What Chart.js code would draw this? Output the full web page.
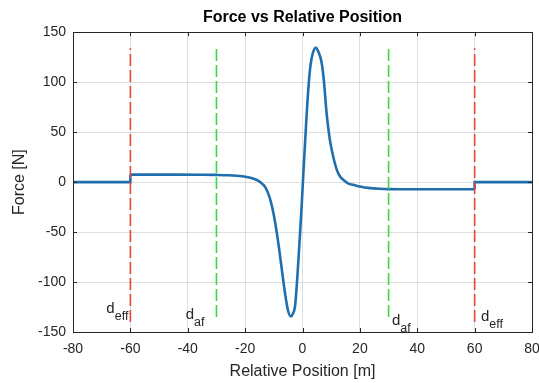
<!DOCTYPE html>
<html lang="en">
<head>
  <meta charset="UTF-8" />
  <title>Force vs Relative Position</title>
  <style>
    body {
      margin: 0;
      padding: 0;
      background: #fff;
    }
    canvas {
      display: block;
    }
  </style>
</head>
<body>
  <canvas id="grafico" width="539" height="383"></canvas>

  <script src="https://cdn.jsdelivr.net/npm/chart.js"></script>
  <script>
    // central interaction region, relative position [m] vs force [N]
    const posicion = [-60, -45, -35, -30, -26, -23, -21, -19, -17, -15.5, -14, -13, -12, -11, -10, -9, -8, -7, -6, -5, -4, -3.4,
      -2.6, -1.8, -1, -0.3, 0.4, 1.2, 2, 2.8, 3.7, 4.7, 5.6, 6.7, 7.5, 8.4, 9.5, 10.7, 12, 13.1, 14.2, 16, 17.7, 20, 23.5, 27, 30, 40, 60];
    const fuerza = [7.5, 7.5, 7.4, 7.2, 6.9, 6.4, 5.8, 4.8, 3.3, 1.4, -1.8, -5, -11, -20, -33, -50, -70, -92, -113, -129, -134.5, -132,
      -124, -95, -58, -24, 14, 55, 92, 117, 130, 134.5, 130, 119, 100, 69, 43, 25.6, 12, 5.6, 2.3, -1.5, -2.7, -4.4, -6, -6.7, -7, -7.2, -7.2];

    // outside the effective distance the force is zero
    const tramoIzqX = [-80, -60, -60];
    const tramoIzqF = [0, 0, 7.5];
    const tramoDerX = [60, 60, 80];
    const tramoDerF = [-7.2, 0, 0];

    // reference distances
    const dEff = [-60, 60];
    const dAf = [-30, 30];
    const rangoEff = [-140, 134];
    const rangoAf = [-135, 134];

    const ticksX = [-80, -60, -40, -20, 0, 20, 40, 60, 80];
    const ticksY = [-150, -100, -50, 0, 50, 100, 150];

    const azul = '#1f6fae';
    const rojo = '#e8463f';
    const verde = '#3ad83a';
    const gris = '#262626';

    const puntos = (xs, ys) => xs.map((x, i) => ({ x: x, y: ys[i] }));

    const lineaVertical = (x, rango, color) => ({
      data: [{ x: x, y: rango[0] }, { x: x, y: rango[1] }],
      borderColor: color,
      borderWidth: 1.6,
      borderDash: [12, 4],
      pointRadius: 0,
      tension: 0
    });

    // text labels next to the reference lines: [text, subscript, x, y, align]
    const etiquetas = [
      ['d', 'eff', -60, -127, 'right'],
      ['d', 'af', -33.5, -133, 'right'],
      ['d', 'af', 31.2, -139, 'left'],
      ['d', 'eff', 62.2, -135, 'left']
    ];

    const marco = {
      id: 'marco',
      afterDatasetsDraw(chart) {
        const { ctx, chartArea: a, scales } = chart;
        ctx.save();
        ctx.strokeStyle = gris;
        ctx.lineWidth = 1;
        // inner ticks on all four sides
        ctx.beginPath();
        ticksX.forEach(v => {
          const x = Math.round(scales.x.getPixelForValue(v)) + 0.5;
          ctx.moveTo(x, a.top); ctx.lineTo(x, a.top + 4);
          ctx.moveTo(x, a.bottom); ctx.lineTo(x, a.bottom - 4);
        });
        ticksY.forEach(v => {
          const y = Math.round(scales.y.getPixelForValue(v)) + 0.5;
          ctx.moveTo(a.left, y); ctx.lineTo(a.left + 4, y);
          ctx.moveTo(a.right, y); ctx.lineTo(a.right - 4, y);
        });
        ctx.stroke();
        ctx.strokeRect(Math.round(a.left) + 0.5, Math.round(a.top) + 0.5,
          Math.round(a.right - a.left), Math.round(a.bottom - a.top));

        // d_eff / d_af labels
        ctx.fillStyle = gris;
        ctx.textBaseline = 'middle';
        etiquetas.forEach(([t, sub, vx, vy, align]) => {
          const px = scales.x.getPixelForValue(vx);
          const py = scales.y.getPixelForValue(vy);
          ctx.font = '15px "Liberation Sans", Arial, sans-serif';
          const wt = ctx.measureText(t).width;
          ctx.font = '12.5px "Liberation Sans", Arial, sans-serif';
          const ws = ctx.measureText(sub).width;
          const x0 = align === 'right' ? px - wt - ws - 2 : px;
          ctx.font = '15px "Liberation Sans", Arial, sans-serif';
          ctx.fillText(t, x0, py);
          ctx.font = '12.5px "Liberation Sans", Arial, sans-serif';
          ctx.fillText(sub, x0 + wt, py + 8);
        });
        ctx.restore();
      }
    };

    const ctx = document.getElementById('grafico').getContext('2d');
    const chart = new Chart(ctx, {
      type: 'line',
      data: {
        datasets: [
          lineaVertical(dEff[0], rangoEff, rojo),
          lineaVertical(dEff[1], rangoEff, rojo),
          lineaVertical(dAf[0], rangoAf, verde),
          lineaVertical(dAf[1], rangoAf, verde),
          {
            data: puntos(posicion, fuerza),
            borderColor: azul,
            borderWidth: 2.6,
            pointRadius: 0,
            cubicInterpolationMode: 'monotone'
          },
          {
            data: puntos(tramoIzqX, tramoIzqF),
            borderColor: azul,
            borderWidth: 2.6,
            pointRadius: 0,
            tension: 0
          },
          {
            data: puntos(tramoDerX, tramoDerF),
            borderColor: azul,
            borderWidth: 2.6,
            pointRadius: 0,
            tension: 0
          }
        ]
      },
      options: {
        responsive: false,
        animation: false,
        devicePixelRatio: 1,
        layout: {
          padding: { left: 0, right: 7, top: 0, bottom: 0 }
        },
        plugins: {
          legend: { display: false },
          tooltip: { enabled: false },
          title: {
            display: true,
            fullSize: false,
            text: 'Force vs Relative Position',
            color: '#000',
            font: { family: '"Liberation Sans", Arial, sans-serif', size: 16, weight: 'bold' },
            padding: { top: 8, bottom: 5 }
          }
        },
        scales: {
          x: {
            type: 'linear',
            min: -80,
            max: 80,
            afterBuildTicks: s => { s.ticks = ticksX.map(v => ({ value: v })); },
            afterFit: s => { s.height = 51; s.paddingLeft = 0; s.paddingRight = 0; },
            border: { display: false },
            grid: { color: 'rgba(38,38,38,0.15)', drawTicks: false },
            ticks: {
              color: gris,
              padding: 9,
              maxRotation: 0,
              autoSkip: false,
              font: { family: '"Liberation Sans", Arial, sans-serif', size: 14 }
            },
            title: {
              display: true,
              text: 'Relative Position [m]',
              color: gris,
              font: { family: '"Liberation Sans", Arial, sans-serif', size: 16 },
              padding: { top: 0, bottom: 2 }
            }
          },
          y: {
            min: -150,
            max: 150,
            afterBuildTicks: s => { s.ticks = ticksY.map(v => ({ value: v })); },
            afterFit: s => { s.width = 73; s.paddingTop = 0; s.paddingBottom = 0; },
            border: { display: false },
            grid: { color: 'rgba(38,38,38,0.15)', drawTicks: false },
            ticks: {
              color: gris,
              padding: 7,
              font: { family: '"Liberation Sans", Arial, sans-serif', size: 14 }
            },
            title: {
              display: true,
              text: 'Force [N]',
              color: gris,
              font: { family: '"Liberation Sans", Arial, sans-serif', size: 16 },
              padding: { top: 10, bottom: 0 }
            }
          }
        }
      },
      plugins: [marco]
    });
  </script>
</body>
</html>
